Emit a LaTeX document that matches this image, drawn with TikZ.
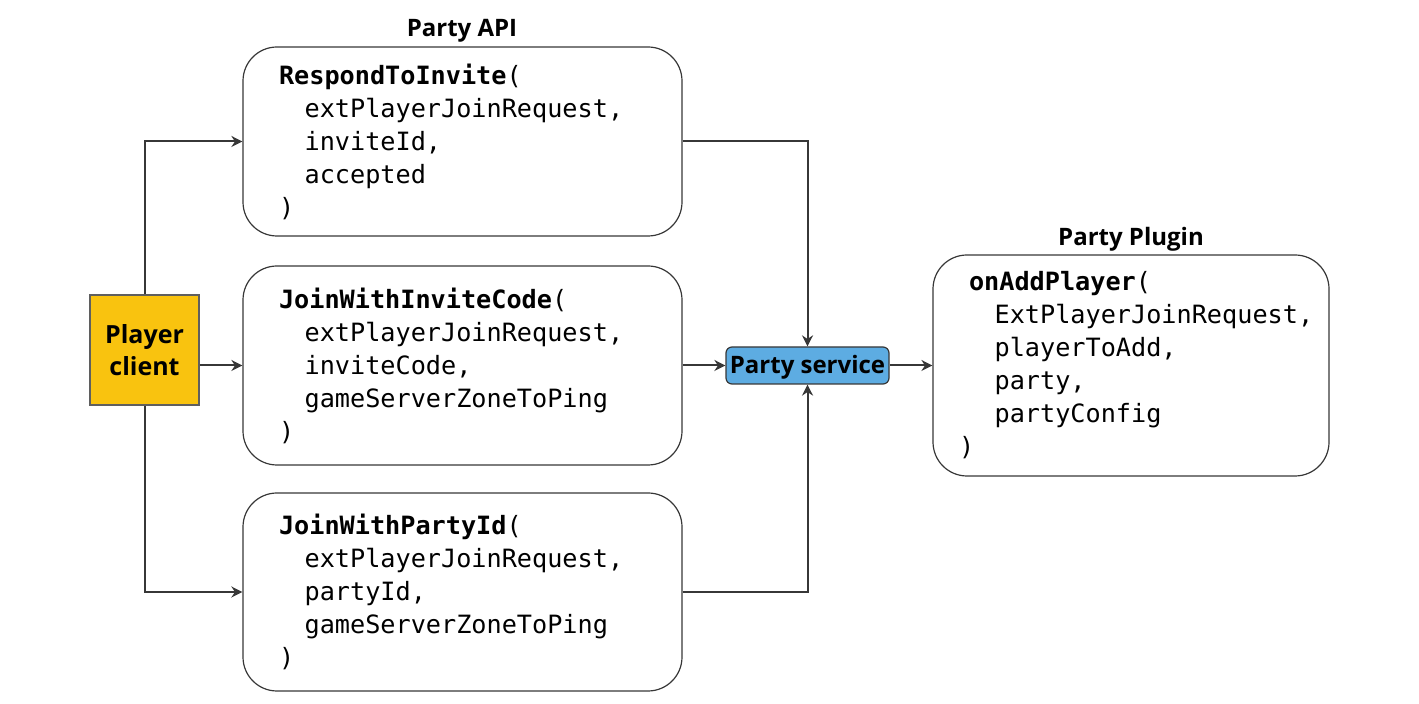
\documentclass[tikz,border=0pt]{standalone}
\usepackage{fontspec}
\setmainfont{Open Sans}
\newfontfamily\codefont{DejaVu Sans Mono}
\usetikzlibrary{arrows.meta,positioning}
\definecolor{cClient}{RGB}{249,195,15}
\definecolor{cService}{RGB}{93,172,226}
\definecolor{cLine}{RGB}{55,55,55}
\newcommand{\ind}{\hspace*{12.8pt}}

\begin{document}
\begin{tikzpicture}[
    x=0.5pt, y=-0.5pt,
    call/.style={rectangle,draw=cLine,line width=0.6pt,rounded corners=17pt,align=left,
      inner xsep=18pt,inner ysep=0pt,font=\codefont\fontsize{12.6}{16.5}\selectfont},
    title/.style={font=\bfseries\fontsize{12}{14}\selectfont},
    link/.style={-{Stealth[length=5.5pt,width=5.5pt]},draw=cLine,line width=1pt},
  ]
  \useasboundingbox (0,0) rectangle (1419,704);

  \node[title] (apiT) at (462,31) {Party API};
  \node[title] (plgT) at (1131,239) {Party Plugin};

  \node[rectangle,draw=cLine!80,line width=0.6pt,fill=cClient,minimum width=54.5pt,minimum height=55pt,
    align=center,font=\bfseries\fontsize{12.5}{16}\selectfont] (pc) at (144.5,350) {Player\\client};

  \node[call,text width=183.5pt,minimum height=94.5pt] (b1) at (462.5,141.5)
    {\textbf{RespondToInvite}(\\\ind extPlayerJoinRequest,\\\ind inviteId,\\\ind accepted\\)};
  \node[call,text width=183.5pt,minimum height=99.5pt] (b2) at (462.5,365.5)
    {\textbf{JoinWithInviteCode}(\\\ind extPlayerJoinRequest,\\\ind inviteCode,\\\ind gameServerZoneToPing\\)};
  \node[call,text width=183.5pt,minimum height=99pt] (b3) at (462.5,592)
    {\textbf{JoinWithPartyId}(\\\ind extPlayerJoinRequest,\\\ind partyId,\\\ind gameServerZoneToPing\\)};

  \node[rectangle,draw=cLine,line width=0.6pt,rounded corners=3pt,fill=cService,minimum width=81.5pt,
    minimum height=18.5pt,inner sep=0pt,text depth=1pt,font=\bfseries\fontsize{12}{14}\selectfont] (ps) at (807.5,365.5) {Party service};

  \node[call,text width=162pt,minimum height=110.5pt] (pl) at (1131,365.5)
    {\textbf{onAddPlayer}(\\\mbox{\ind ExtPlayerJoinRequest,}\\\ind playerToAdd,\\\ind party,\\\ind partyConfig\\\hspace*{-5pt})};

  % client to the API calls
  \draw[link] (pc.north) |- (b1.west);
  \draw[link] (pc.east |- b2.west) -- (b2.west);
  \draw[link] (pc.south) |- (b3.west);

  % API calls to the service
  \draw[link] (b1.east) -| (ps.north);
  \draw[link] (b2.east) -- (ps.west);
  \draw[link] (b3.east) -| (ps.south);
  \draw[link] (ps.east) -- (pl.west);
\end{tikzpicture}
\end{document}
